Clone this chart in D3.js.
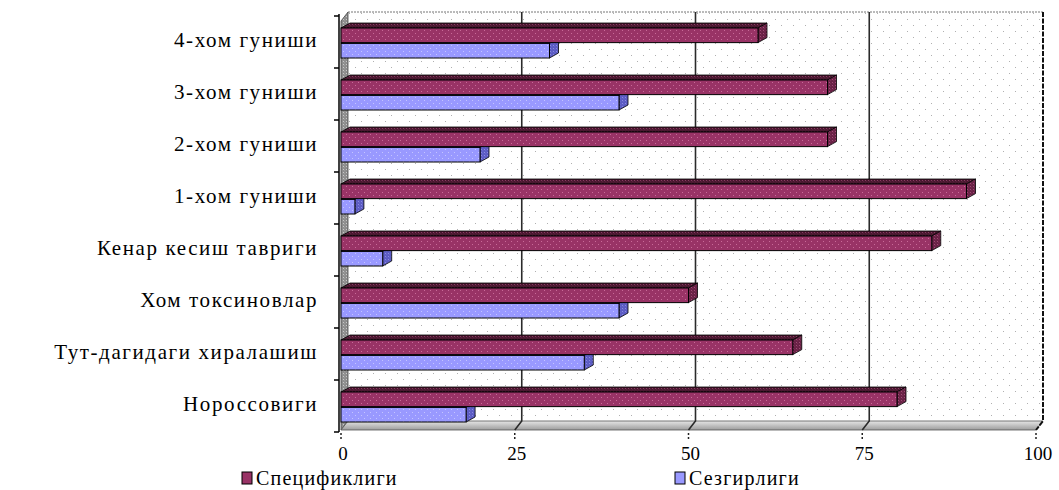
<!DOCTYPE html>
<html>
<head>
<meta charset="utf-8">
<script src="https://cdn.jsdelivr.net/npm/d3@7"></script>
<style>
  body { margin: 0; background: #fff; }
  svg { display: block; }
  text { font-family: "Liberation Serif", "DejaVu Serif", serif; fill: #000; }
</style>
</head>
<body>
<svg id="chart" width="1059" height="490"></svg>
<script>
// Categories listed top to bottom
const categories = [
  "4-хом гуниши",
  "3-хом гуниши",
  "2-хом гуниши",
  "1-хом гуниши",
  "Кенар кесиш тавриги",
  "Хом токсиновлар",
  "Тут-дагидаги хиралашиш",
  "Нороссовиги"
];
const seriesNames = ["Спецификлиги", "Сезгирлиги"];
const specificity = [60, 70, 70, 90, 85, 50, 65, 80];
const sensitivity = [30, 40, 20, 2, 6, 40, 35, 18];
const tickValues = [0, 25, 50, 75, 100];

const svg = d3.select("#chart");
const defs = svg.append("defs");

// dotted textures
function dotPattern(id, base, dot, step) {
  const p = defs.append("pattern").attr("id", id)
    .attr("patternUnits", "userSpaceOnUse").attr("width", step).attr("height", step);
  p.append("rect").attr("width", step).attr("height", step).attr("fill", base);
  p.append("rect").attr("x", 1).attr("y", 1).attr("width", 1).attr("height", 1).attr("fill", dot);
  p.append("rect").attr("x", step / 2 + 1).attr("y", step / 2 + 1).attr("width", 1).attr("height", 1).attr("fill", dot);
}
dotPattern("wallDots", "#ffffff", "#b0b0b0", 12);
dotPattern("sideDots", "#8e8e8e", "#c8c8c8", 3);
dotPattern("maroonDots", "#993366", "#c86a98", 6);
dotPattern("maroonTop", "#4a1830", "#8a3a62", 3);
dotPattern("maroonCap", "#6a2246", "#a14a76", 3);
dotPattern("blueDots", "#9999ff", "#c4c4ff", 6);
dotPattern("blueCap", "#5c5cc4", "#8a8ae0", 3);

const floorGrad = defs.append("linearGradient").attr("id", "floorGrad")
  .attr("x1", 0).attr("y1", 0).attr("x2", 0).attr("y2", 1);
floorGrad.append("stop").attr("offset", "0%").attr("stop-color", "#e6e6e6");
floorGrad.append("stop").attr("offset", "100%").attr("stop-color", "#9c9c9c");

// Scales: front plane of the 3D box
const x = d3.scaleLinear().domain([0, 100]).range([341, 1036]);
const y = d3.scaleBand().domain(categories).range([20, 436]);
const ySub = d3.scaleBand().domain(seriesNames).range([8, 38]).paddingInner(0.05);

// depth of the walls and of the bars
const wall = { dx: 7, dy: 9 };
const bar = { dx: 9, dy: 5 };
const wallTop = 12, floorBack = 421, floorFront = floorBack + wall.dy;
const xb = v => x(v) + wall.dx;

// back wall
svg.append("rect")
  .attr("x", xb(0)).attr("y", wallTop)
  .attr("width", xb(100) - xb(0)).attr("height", floorBack - wallTop)
  .attr("fill", "url(#wallDots)");

// top edge of back wall
svg.append("line")
  .attr("x1", xb(0)).attr("x2", xb(100)).attr("y1", wallTop).attr("y2", wallTop)
  .attr("stroke", "#777").attr("stroke-dasharray", "2,1");

// left side wall
svg.append("polygon")
  .attr("points", [[x(0), wallTop + wall.dy], [xb(0), wallTop], [xb(0), floorBack], [x(0), floorFront]].join(" "))
  .attr("fill", "url(#sideDots)").attr("stroke", "#444").attr("stroke-width", 0.8);

// floor
svg.append("polygon")
  .attr("points", [[xb(0), floorBack], [xb(100), floorBack], [x(100), floorFront], [x(0), floorFront]].join(" "))
  .attr("fill", "url(#floorGrad)").attr("stroke", "#555").attr("stroke-width", 0.8);

// gridlines on back wall and floor
svg.append("g").selectAll("path")
  .data(tickValues.filter(v => v > 0 && v < 100))
  .join("path")
  .attr("d", v => `M${xb(v)},${wallTop}V${floorBack}L${x(v)},${floorFront}`)
  .attr("fill", "none").attr("stroke", "#2a2a2a").attr("stroke-width", 1.6);

// right edge
svg.append("path")
  .attr("d", `M${xb(100)},${wallTop}V${floorBack}L${x(100)},${floorFront}`)
  .attr("fill", "none").attr("stroke", "#111").attr("stroke-width", 2)
  .attr("stroke-dasharray", "5,1.5");

// left axis line with category ticks
svg.append("line")
  .attr("x1", x(0) - 2).attr("x2", x(0) - 2).attr("y1", wallTop + 2).attr("y2", floorFront + 2)
  .attr("stroke", "#000").attr("stroke-width", 1.5);
svg.append("g").selectAll("line")
  .data(categories.concat([null]))
  .join("line")
  .attr("x1", x(0) - 7).attr("x2", x(0) - 2)
  .attr("y1", (d, i) => y.range()[0] + i * y.step() - 4)
  .attr("y2", (d, i) => y.range()[0] + i * y.step() - 4)
  .attr("stroke", "#000").attr("stroke-width", 1.5);

// bars
const rows = categories.map((c, i) => ({
  cat: c,
  bars: [
    { s: seriesNames[1], v: sensitivity[i], front: "url(#blueDots)", topF: "#6f6fd8", cap: "url(#blueCap)" },
    { s: seriesNames[0], v: specificity[i], front: "url(#maroonDots)", topF: "url(#maroonTop)", cap: "url(#maroonCap)" }
  ]
}));

const groups = svg.append("g").selectAll("g")
  .data(rows).join("g")
  .attr("transform", d => `translate(0,${y(d.cat)})`);

const bars = groups.selectAll("g").data(d => d.bars).join("g");

bars.append("polygon") // top face
  .attr("points", d => {
    const y0 = ySub(d.s), x0 = x(0), x1 = x(d.v);
    return [[x0, y0], [x1, y0], [x1 + bar.dx, y0 - bar.dy], [x0 + bar.dx, y0 - bar.dy]].join(" ");
  })
  .attr("fill", d => d.topF).attr("stroke", "#000").attr("stroke-width", 0.8);

bars.append("polygon") // end cap
  .attr("points", d => {
    const y0 = ySub(d.s), h = ySub.bandwidth(), x1 = x(d.v);
    return [[x1, y0], [x1 + bar.dx, y0 - bar.dy], [x1 + bar.dx, y0 + h - bar.dy], [x1, y0 + h]].join(" ");
  })
  .attr("fill", d => d.cap).attr("stroke", "#000").attr("stroke-width", 0.8);

bars.append("rect") // front face
  .attr("x", x(0)).attr("y", d => ySub(d.s))
  .attr("width", d => x(d.v) - x(0)).attr("height", ySub.bandwidth())
  .attr("fill", d => d.front).attr("stroke", "#000").attr("stroke-width", 1);

// category labels
svg.append("g").selectAll("text")
  .data(categories).join("text")
  .attr("x", 318)
  .attr("y", c => y(c) + ySub(seriesNames[1]) - 1)
  .attr("text-anchor", "end").attr("dominant-baseline", "middle")
  .attr("font-size", 21).attr("letter-spacing", 1.6)
  .text(c => c);

// value axis ticks and labels
svg.append("g").selectAll("line")
  .data(tickValues).join("line")
  .attr("x1", v => x(v)).attr("x2", v => x(v))
  .attr("y1", floorFront + 3).attr("y2", floorFront + 11)
  .attr("stroke", "#222").attr("stroke-width", 1.5).attr("stroke-dasharray", "2,2");
svg.append("g").selectAll("text")
  .data(tickValues).join("text")
  .attr("x", v => x(v) + 2).attr("y", 460)
  .attr("text-anchor", "middle").attr("font-size", 19)
  .text(v => v);

// legend
const legendItems = [
  { name: seriesNames[0], fill: "#993366", x: 242 },
  { name: seriesNames[1], fill: "#9999ff", x: 675 }
];
const lg = svg.append("g").selectAll("g").data(legendItems).join("g")
  .attr("transform", d => `translate(${d.x},472)`);
lg.append("rect").attr("width", 10).attr("height", 12)
  .attr("fill", d => d.fill).attr("stroke", "#000").attr("stroke-width", 1);
lg.append("text").attr("x", 14).attr("y", 13)
  .attr("font-size", 20).attr("letter-spacing", 1.2)
  .text(d => d.name);
</script>
</body>
</html>
